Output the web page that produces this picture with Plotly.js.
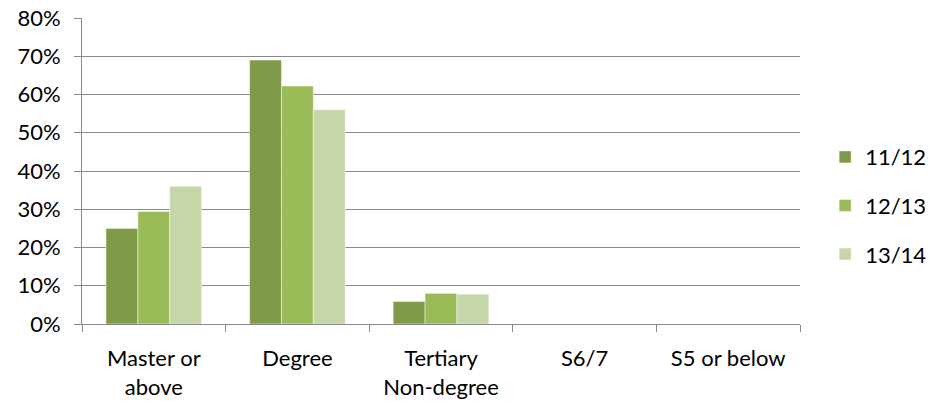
<!DOCTYPE html>
<html>
<head>
<meta charset="utf-8">
<script src="https://cdn.plot.ly/plotly-3.0.1.min.js"></script>
<style>html,body{margin:0;padding:0;background:#fff;}#chart{width:930px;height:407px;}</style>
</head>
<body>
<div id="chart"></div>
<script>
const categories = ["Master or<br>above", "Degree", "Tertiary<br>Non-degree", "S6/7", "S5 or below"];
const seriesNames = ["11/12", "12/13", "13/14"];
const values1112 = [0.25, 0.69, 0.059, 0, 0];
const values1213 = [0.294, 0.622, 0.08, 0, 0];
const values1314 = [0.36, 0.56, 0.078, 0, 0];
const colors = ["#7F9A48", "#9BBB59", "#C5D6A9"];

const seriesValues = [values1112, values1213, values1314];
const traces = seriesValues.map((v, i) => ({
  type: "bar",
  name: seriesNames[i],
  x: categories,
  y: v,
  legendgroup: "g" + i,
  marker: {color: colors[i], line: {color: "rgba(255,255,255,0.6)", width: 0.8}},
  hoverinfo: "skip"
}));

const fontFam = "Lato, 'Open Sans', sans-serif";
const fs = 22;
const layout = {
  width: 930, height: 407,
  margin: {l: 82, r: 130, t: 18, b: 82.5, autoexpand: false},
  paper_bgcolor: "#fff", plot_bgcolor: "#fff",
  barmode: "group", bargap: 0.334, bargroupgap: 0,
  font: {family: fontFam, size: fs, color: "#000"},
  xaxis: {
    type: "category",
    showline: true, linecolor: "#888", linewidth: 1,
    ticks: "outside", tickson: "boundaries", ticklen: 7, tickcolor: "#888",
    ticklabelstandoff: 15,
    showgrid: false, fixedrange: true,
    tickfont: {family: fontFam, size: fs, color: "#000"}
  },
  yaxis: {
    range: [0, 0.8], dtick: 0.1, tickformat: ".0%",
    showline: true, linecolor: "#888", linewidth: 1,
    ticks: "outside", ticklen: 7, tickcolor: "#888",
    ticklabelstandoff: 9,
    showgrid: true, gridcolor: "#888", gridwidth: 1,
    zeroline: false, fixedrange: true,
    tickfont: {family: fontFam, size: fs, color: "#000"}
  },
  showlegend: true,
  legend: {
    x: 1.035, xanchor: "left", y: 0.387, yanchor: "middle",
    traceorder: "grouped", tracegroupgap: 17,
    font: {family: fontFam, size: fs, color: "#000"},
    bgcolor: "rgba(0,0,0,0)", borderwidth: 0
  }
};

Plotly.newPlot("chart", traces, layout, {displayModeBar: false, staticPlot: true});
</script>
</body>
</html>
